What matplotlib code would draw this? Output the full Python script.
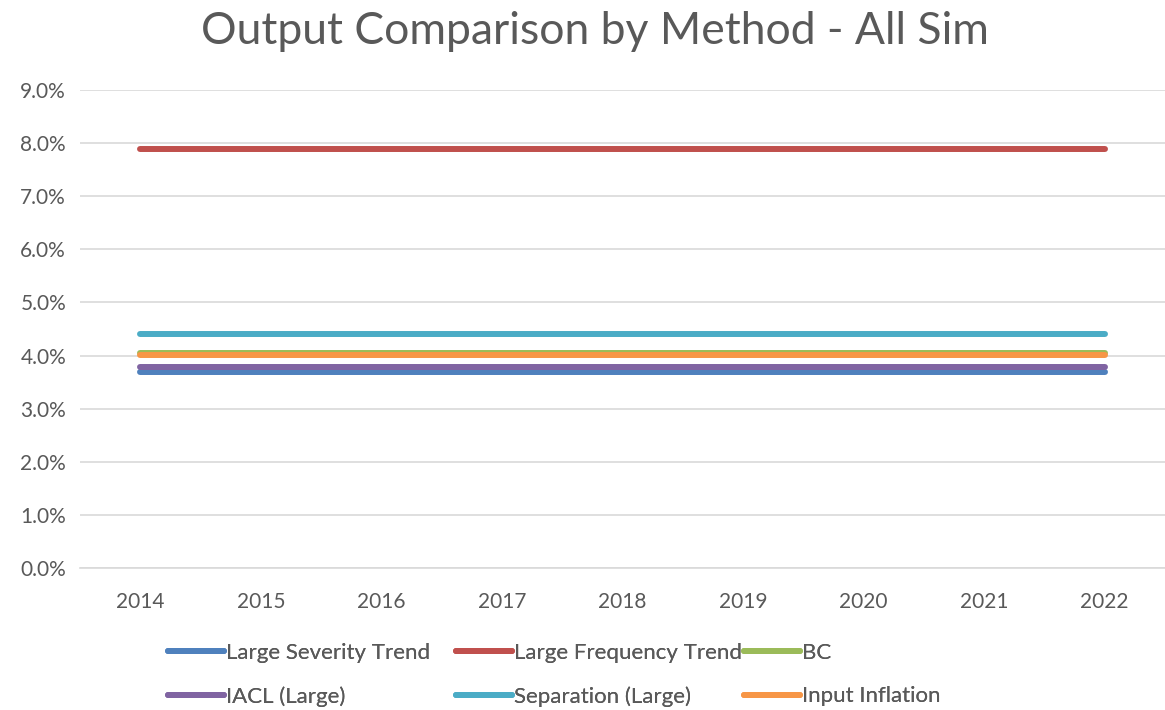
import matplotlib.pyplot as plt

plt.rcParams['font.family'] = ['Lato', 'DejaVu Sans']

years = ["2014", "2015", "2016", "2017", "2018", "2019", "2020", "2021", "2022"]
series_names = ["Large Severity Trend", "Large Frequency Trend", "BC",
                "IACL (Large)", "Separation (Large)", "Input Inflation"]
large_severity = [0.0369] * 9
large_frequency = [0.0789] * 9
bc = [0.0404] * 9
iacl = [0.0379] * 9
separation = [0.0441] * 9
input_inflation = [0.0401] * 9
colors = ["#4F81BD", "#C0504D", "#9BBB59", "#8064A2", "#4BACC6", "#F79646"]

fig = plt.figure(figsize=(11.65, 7.1), dpi=100)
ax = fig.add_axes([80 / 1165, 1 - 568 / 710, 1 - 80 / 1165, (568 - 90) / 710])

x = range(len(years))
lines = []
for vals, name, c in zip([large_severity, large_frequency, bc, iacl, separation, input_inflation],
                         series_names, colors):
    ln, = ax.plot(x, vals, color=c, lw=4.3, solid_capstyle="round", label=name)
    lines.append(ln)

ax.set_xlim(-0.5, 8.5)
ax.set_ylim(0, 0.09)
ax.set_yticks([i / 100 for i in range(10)])
ax.set_yticklabels([f"{i}.0%" for i in range(10)])
ax.set_xticks(list(x))
ax.set_xticklabels(years)
ax.grid(axis="y", color="#D9D9D9", lw=1.2)
ax.set_axisbelow(True)
for s in ["top", "right", "left"]:
    ax.spines[s].set_visible(False)
ax.spines["bottom"].set_color("#D9D9D9")
ax.spines["bottom"].set_linewidth(1.2)
ax.tick_params(length=0, labelsize=15, colors="#595959", pad=10)
ax.tick_params(axis="x", pad=17)

fig.text(0.511, 0.955, "Output Comparison by Method - All Sim", ha="center", va="center",
         fontsize=32, color="#595959")

# Excel-style legend: three fixed-width columns, two rows
col_x = [168, 456, 744]
for col, (i, j) in enumerate([(0, 3), (1, 4), (2, 5)]):
    leg = fig.legend([lines[i], lines[j]], [series_names[i], series_names[j]],
                     loc="upper left", bbox_to_anchor=(col_x[col] / 1165, 1 - 643 / 710),
                     frameon=False, fontsize=16, handlelength=2.5, handletextpad=0.1,
                     labelspacing=1.05, borderpad=0, borderaxespad=0,
                     labelcolor="#595959")
    fig.add_artist(leg)

plt.savefig("out.png")
